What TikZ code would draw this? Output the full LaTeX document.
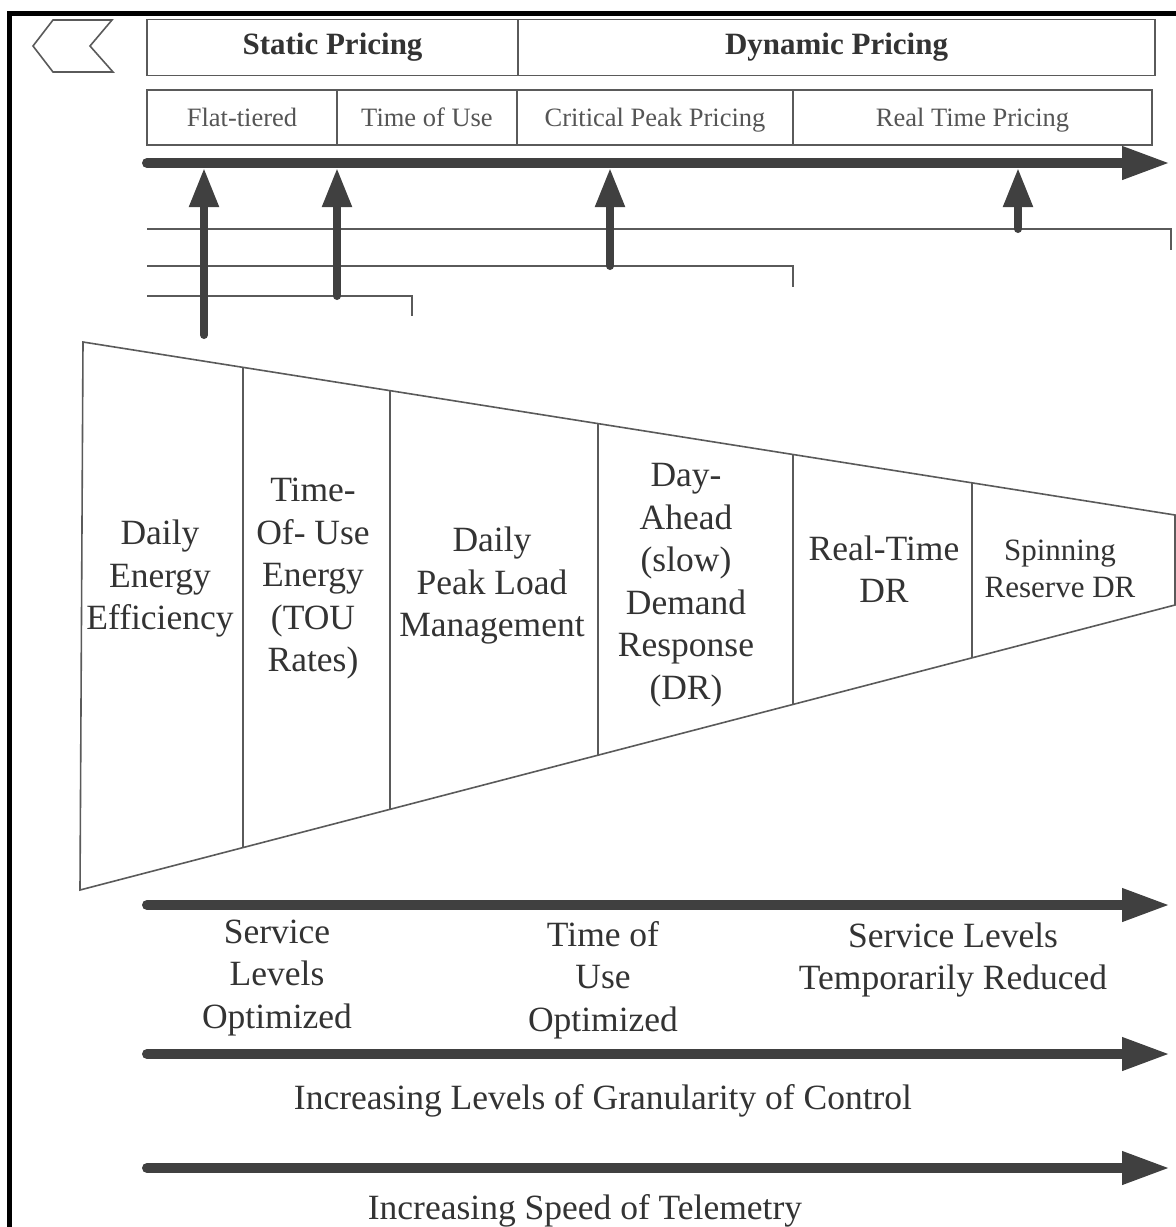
\documentclass[tikz,border=0pt]{standalone}
\usepackage{fontspec}
\setmainfont{Liberation Serif}
\usetikzlibrary{arrows.meta}
\definecolor{linegray}{HTML}{5A5A5A}
\definecolor{axisgray}{HTML}{404040}
\definecolor{txtgray}{HTML}{333333}
\definecolor{subgray}{HTML}{555555}
\begin{document}
\begin{tikzpicture}[x=1pt,y=-1pt,
  ln/.style={draw=linegray, line width=1.6pt},
  head/.style={ln, minimum height=56pt, inner sep=0pt, text=txtgray,
    text height=21pt, text depth=7pt,
    font=\fontsize{31}{36}\selectfont\bfseries},
  sub/.style={ln, minimum height=55pt, inner sep=0pt, text=subgray,
    text height=20pt, text depth=3pt,
    font=\fontsize{26.5}{30}\selectfont},
  bigarrow/.style={draw=axisgray, line width=10pt, line cap=round,
    -{Triangle[length=48pt,width=31pt]}},
  uparrow/.style={draw=axisgray, line width=8pt, line cap=round,
    -{Triangle[length=39pt,width=28pt]}},
  bracket/.style={draw=linegray, line width=1.8pt},
  stage/.style={align=center, inner sep=0pt, text=txtgray,
    font=\fontsize{35.5}{42.5}\selectfont},
  small stage/.style={align=center, inner sep=0pt, text=txtgray,
    font=\fontsize{31}{37}\selectfont},
  caption/.style={align=center, inner sep=0pt, text=txtgray,
    font=\fontsize{35.5}{42.5}\selectfont}]
\useasboundingbox (0,0) rectangle (1176,1227);
\fill[white] (0,0) rectangle (1176,1227);

% frame edges and back chevron
\draw[black, line width=5pt] (9.5,1240) -- (9.5,13.5) -- (1190,13.5);
\draw[ln, line join=miter] (33,46) -- (53,20) -- (112,20) -- (90,46) -- (113,72) -- (53,72) -- cycle;

% pricing categories
\node[head, minimum width=371pt] (static) at (332.5,47.5) {Static Pricing};
\node[head, minimum width=637pt] (dynamic) at (836.5,47.5) {Dynamic Pricing};
\node[sub, minimum width=190pt] (flat) at (242,117.5) {Flat-tiered};
\node[sub, minimum width=180pt] (tou) at (427,117.5) {Time of Use};
\node[sub, minimum width=276pt] (cpp) at (655,117.5) {Critical Peak Pricing};
\node[sub, minimum width=359pt] (rtp) at (972.5,117.5) {Real Time Pricing};

% pricing axis
\coordinate (ax0) at (147,163);
\coordinate (ax1) at (1170,163);
\draw[bigarrow] (ax0) -- (ax1);

% brackets grouping the programmes
\draw[bracket] (147,229) -- (1171,229) -- (1171,250);
\draw[bracket] (147,266) -- (793,266) -- (793,287);
\draw[bracket] (147,296) -- (412,296) -- (412,316);

% arrows onto the pricing axis
\coordinate (u1a) at (204,335);  \coordinate (u1b) at (204,168);
\coordinate (u2a) at (337,296);  \coordinate (u2b) at (337,168);
\coordinate (u3a) at (610,266);  \coordinate (u3b) at (610,168);
\coordinate (u4a) at (1018,229); \coordinate (u4b) at (1018,168);
\draw[uparrow] (u1a) -- (u1b);
\draw[uparrow] (u2a) -- (u2b);
\draw[uparrow] (u3a) -- (u3b);
\draw[uparrow] (u4a) -- (u4b);

% funnel of demand response programmes
\draw[ln, line join=miter] (83,342) -- (1175,515) -- (1175,605) -- (80,890) -- cycle;
\draw[ln] (243,367.3) -- (243,847.6);
\draw[ln] (390,390.6) -- (390,809.3);
\draw[ln] (598,423.6) -- (598,755.2);
\draw[ln] (793,454.5) -- (793,704.4);
\draw[ln] (972,482.8) -- (972,657.8);

\node[stage] (dee) at (160,579) {Daily\\Energy\\Efficiency};
\node[stage] (toue) at (313,579) {Time-\\Of- Use\\Energy\\(TOU\\Rates)};
\node[stage] (dplm) at (492,586) {Daily\\Peak Load\\Management};
\node[stage] (dadr) at (686,585) {Day-\\Ahead\\(slow)\\Demand\\Response\\(DR)};
\node[stage] (rtdr) at (884,569) {Real-Time\\DR};
\node[small stage] (srdr) at (1060,569) {Spinning\\Reserve DR};

% outcome and trend axes
\coordinate (o0) at (147,905);  \coordinate (o1) at (1170,905);
\coordinate (g0) at (147,1054); \coordinate (g1) at (1170,1054);
\coordinate (s0) at (147,1168); \coordinate (s1) at (1170,1168);
\draw[bigarrow] (o0) -- (o1);
\draw[bigarrow] (g0) -- (g1);
\draw[bigarrow] (s0) -- (s1);

\node[caption] (slo) at (277,978) {Service\\Levels\\Optimized};
\node[caption] (tuo) at (603,980) {Time of\\Use\\Optimized};
\node[caption] (sltr) at (953,960) {Service Levels\\Temporarily Reduced};
\node[caption] (gran) at (603,1101) {Increasing Levels of Granularity of Control};
\node[caption] (tele) at (585,1211) {Increasing Speed of Telemetry};
\end{tikzpicture}
\end{document}
